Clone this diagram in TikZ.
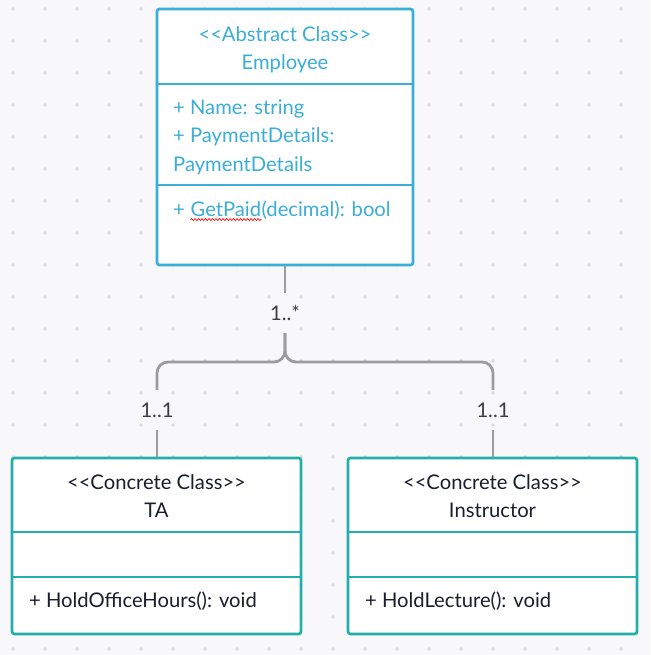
\documentclass[tikz,border=0pt]{standalone}
\usepackage{fontspec}
\setmainfont{Lato}
\usetikzlibrary{decorations.pathmorphing}
\definecolor{bgc}{HTML}{F8F8FA}
\definecolor{dotc}{HTML}{D9D9DE}
\definecolor{blu}{HTML}{3AAED8}
\definecolor{tea}{HTML}{22AFA9}
\definecolor{ink}{HTML}{1A1E2C}
\definecolor{lnk}{HTML}{9C9C9C}
\definecolor{lbl}{HTML}{3C3C3C}
\tikzset{
  classbox/.style={draw, fill=white, line width=2.7pt, rounded corners=2.5pt, inner sep=0pt, minimum width=#1},
  divider/.style={line width=2.7pt},
  ttl/.style={font=\fontsize{20.2}{24}\selectfont, inner sep=0pt, anchor=center},
  attr/.style={font=\fontsize{20.2}{24}\selectfont, inner sep=0pt, anchor=west},
  conn/.style={draw=lnk, line width=2.8pt, rounded corners=11pt},
  mult/.style={font=\fontsize{20.2}{24}\selectfont, text=lbl, inner sep=0pt, minimum height=20pt, fill=none},
}
\begin{document}
\begin{tikzpicture}[x=1pt,y=-1pt]
\useasboundingbox (0,0) rectangle (650,655);
\fill[bgc] (0,0) rectangle (650,655);
\foreach \i in {0,...,20}{
  \foreach \j in {0,...,20}{
    \fill[dotc] (13+32*\i,9+32*\j) circle (1.9pt);
  }
}
% Employee
\node[classbox=256pt, minimum height=256pt, draw=blu] (emp) at (285,137) {};
\draw[divider, blu] (emp.west |- 0,84) -- (emp.east |- 0,84);
\draw[divider, blu] (emp.west |- 0,185) -- (emp.east |- 0,185);
\node[ttl, text=blu] (empst) at (285,34) {{<}{<}Abstract Class{>}{>}};
\node[ttl, text=blu] (empnm) at (285,63.5) {Employee};
\node[attr, text=blu] (empa1) at (173,108.5) {+ Name: string};
\node[attr, text=blu] (empa2) at (173,136.5) {+ PaymentDetails:};
\node[attr, text=blu] (empa3) at (173,165.5) {PaymentDetails};
\node[attr, text=blu] (empm1) at (173,211) {+ \tikz[baseline=(gp.base)]{\node[inner sep=0pt] (gp) {GetPaid}; \draw[red, line width=0.7pt, decorate, decoration={snake, segment length=3.5pt, amplitude=0.9pt}] ([yshift=-2.4pt]gp.south west) -- ([yshift=-2.4pt]gp.south east);}(decimal): bool};
% TA
\node[classbox=289pt, minimum height=176pt, draw=tea] (ta) at (156.5,546) {};
\draw[divider, tea] (ta.west |- 0,532) -- (ta.east |- 0,532);
\draw[divider, tea] (ta.west |- 0,577) -- (ta.east |- 0,577);
\node[ttl, text=ink] (tast) at (156.5,482) {{<}{<}Concrete Class{>}{>}};
\node[ttl, text=ink] (tanm) at (156.5,510.5) {TA};
\node[attr, text=ink] (tam1) at (29,601) {+ HoldOfficeHours(): void};
% Instructor
\node[classbox=289pt, minimum height=176pt, draw=tea] (ins) at (492.5,546) {};
\draw[divider, tea] (ins.west |- 0,532) -- (ins.east |- 0,532);
\draw[divider, tea] (ins.west |- 0,577) -- (ins.east |- 0,577);
\node[ttl, text=ink] (insst) at (492.5,482) {{<}{<}Concrete Class{>}{>}};
\node[ttl, text=ink] (insnm) at (492.5,510.5) {Instructor};
\node[attr, text=ink] (insm1) at (365,601) {+ HoldLecture(): void};
% multiplicities
\node[mult] (m0) at (285,313) {1..*};
\node[mult] (m1) at (157,410) {1..1};
\node[mult] (m2) at (493,410) {1..1};
\coordinate (split) at (285,362);
% connectors
\draw[conn] (emp.south) -- ([yshift=10pt]m0.north);
\draw[conn] ([yshift=-10pt]m0.south) -- (split) -- (split -| m1) -- ([yshift=10pt]m1.north);
\draw[conn] ([yshift=-10pt]m0.south) -- (split) -- (split -| m2) -- ([yshift=10pt]m2.north);
\draw[conn] ([yshift=-10pt]m1.south) -- (ta.north -| m1);
\draw[conn] ([yshift=-10pt]m2.south) -- (ins.north -| m2);
\end{tikzpicture}
\end{document}
